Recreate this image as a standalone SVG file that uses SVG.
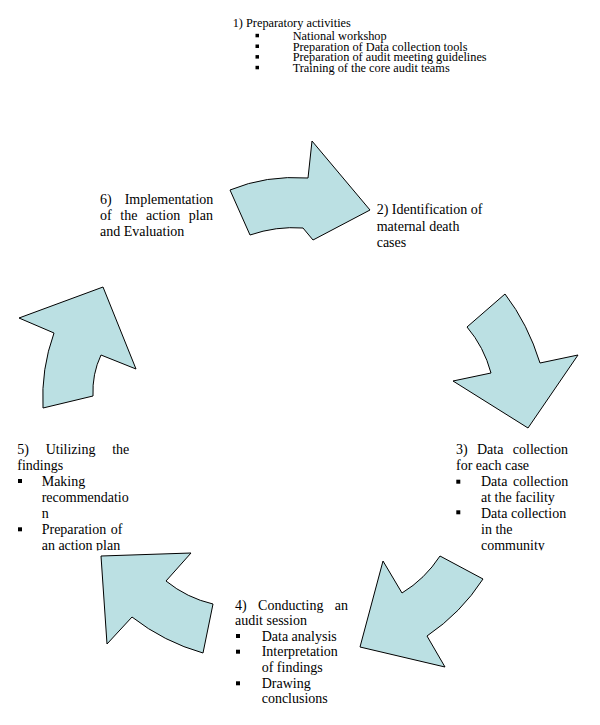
<svg xmlns="http://www.w3.org/2000/svg" width="600" height="725" viewBox="0 0 600 725">
<style>
.t{font-family:"Liberation Serif","Times New Roman",serif;font-size:14px;fill:#000}
.s{font-size:12.3px}
.arrow{fill:#bbe0e3;stroke:#000;stroke-width:1;stroke-linejoin:miter}
.b{fill:#000}
</style>
<defs>
<clipPath id="clipBottom"><rect x="0" y="0" width="600" height="550.5"/></clipPath>
</defs>
<rect width="600" height="725" fill="#fff"/>

<g id="connectors">
<path id="arrow-1-2" class="arrow" d="M230,190 Q266,175 308,178 L312,141 L370,210 L313,240 L303,228 Q276,226 250,235 Z"/>
<path id="arrow-2-3" class="arrow" d="M505,294 Q528,324 540,363 L578,355 L528,428 L453,381 L491,373 Q484,347 467,327 Z"/>
<path id="arrow-3-4" class="arrow" d="M440,556 L483,579 Q461,613 427,636 L445,667 L360,647 L383,561 L402,593 Q425,579 440,556 Z"/>
<path id="arrow-4-5" class="arrow" d="M101,556 L191,553 L166,581 Q187,598 213,604 L203,653 Q164,642 132,617 L107,644 Z"/>
<path id="arrow-5-6" class="arrow" d="M19,318 L103,287 L136,369 L101,355 Q92,374 93,396 L43,408 Q41,369 54,333 Z"/>
</g>

<g id="node-1">
<text class="t s" x="232.7" y="26.5">1) Preparatory activities</text>
<rect class="b" x="255.5" y="33.8" width="3.5" height="3.5"/>
<rect class="b" x="255.5" y="44.5" width="3.5" height="3.5"/>
<rect class="b" x="255.5" y="55.1" width="3.5" height="3.5"/>
<rect class="b" x="255.5" y="65.8" width="3.5" height="3.5"/>
<text class="t s" x="292.7" y="40">National workshop</text>
<text class="t s" x="292.7" y="50.7">Preparation of Data collection tools</text>
<text class="t s" x="292.7" y="61.3">Preparation of audit meeting guidelines</text>
<text class="t s" x="292.7" y="72">Training of the core audit teams</text>
</g>

<g id="node-2">
<text class="t" x="376.7" y="214">2) Identification of</text>
<text class="t" x="376.7" y="230.5">maternal death</text>
<text class="t" x="376.7" y="247">cases</text>
</g>

<g id="node-3" clip-path="url(#clipBottom)">
<text class="t" x="456" y="454" word-spacing="5.85">3) Data collection</text>
<text class="t" x="456" y="470">for each case</text>
<rect class="b" x="456.3" y="479.7" width="4" height="4"/>
<text class="t" x="481" y="486" word-spacing="2">Data collection</text>
<text class="t" x="481" y="502">at the facility</text>
<rect class="b" x="456.3" y="510.3" width="4" height="4"/>
<text class="t" x="481" y="517.5">Data collection</text>
<text class="t" x="481" y="533.5">in the</text>
<text class="t" x="481" y="549.5">community</text>
</g>

<g id="node-4">
<text class="t" x="235" y="609.5" word-spacing="7.9">4) Conducting an</text>
<text class="t" x="235" y="625">audit session</text>
<rect class="b" x="236" y="634" width="4" height="4"/>
<text class="t" x="261.7" y="640.5">Data analysis</text>
<rect class="b" x="236" y="649.7" width="4" height="4"/>
<text class="t" x="261.7" y="656">Interpretation</text>
<text class="t" x="261.7" y="671.8">of findings</text>
<rect class="b" x="236" y="681.3" width="4" height="4"/>
<text class="t" x="261.7" y="687.8">Drawing</text>
<text class="t" x="261.7" y="702.8">conclusions</text>
</g>

<g id="node-5" clip-path="url(#clipBottom)">
<text class="t" x="17.3" y="453.8" word-spacing="13.2">5) Utilizing the</text>
<text class="t" x="17.3" y="469.5">findings</text>
<rect class="b" x="18" y="479" width="4" height="4"/>
<text class="t" x="41.7" y="485.5">Making</text>
<text class="t" x="41.7" y="501.8">recommendatio</text>
<text class="t" x="41.7" y="517.8">n</text>
<rect class="b" x="18" y="527.3" width="4" height="4"/>
<text class="t" x="41.7" y="533.8" word-spacing="1">Preparation of</text>
<text class="t" x="41.7" y="549.5">an action plan</text>
</g>

<g id="node-6">
<text class="t" x="100" y="203.5">6)</text>
<text class="t" x="213.3" y="203.5" text-anchor="end">Implementation</text>
<text class="t" x="100" y="219.5" word-spacing="5.1">of the action plan</text>
<text class="t" x="100" y="236">and Evaluation</text>
</g>
</svg>
